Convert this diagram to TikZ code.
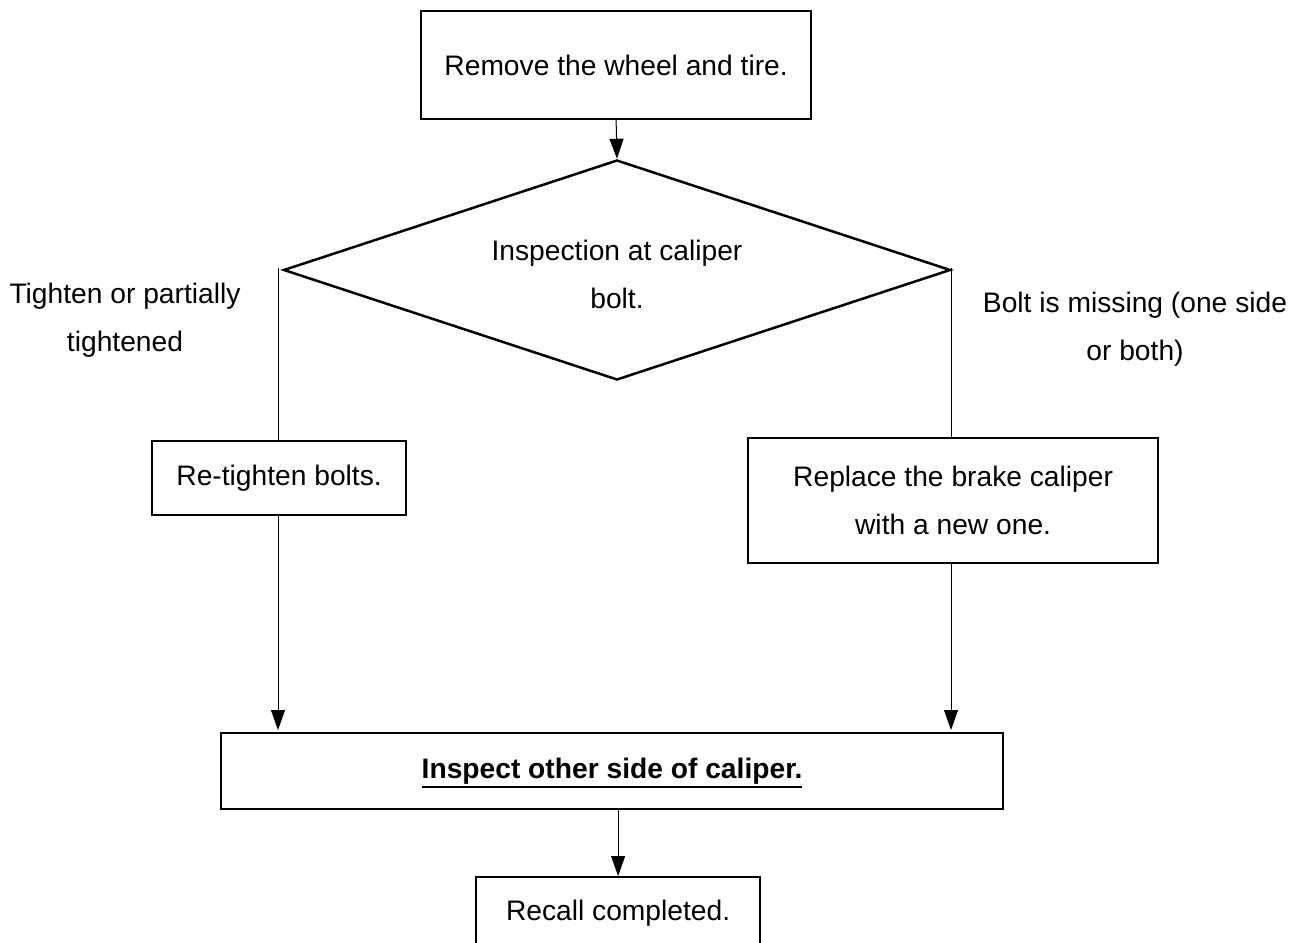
\documentclass[tikz,border=0pt]{standalone}
\usepackage{fontspec}
\setmainfont{Liberation Sans}
\usetikzlibrary{shapes.geometric,arrows.meta}
\begin{document}
\begin{tikzpicture}[x=1pt,y=-1pt,
  every node/.style={font=\fontsize{28.2}{48}\selectfont, inner sep=0pt},
  box/.style={draw, line width=2.2pt, anchor=north west, align=center},
  link/.style={line width=1pt},
  arr/.style={line width=1pt, -{Triangle[width=14pt,length=20pt]}},
  lbl/.style={align=center}]
\useasboundingbox (0,0) rectangle (1295,942);
% boxes
\node[box, minimum width=390pt, minimum height=108pt] (b1) at (420,10) {Remove the wheel and tire.};
\node[draw, diamond, line width=2.5pt, minimum width=667pt, minimum height=220pt, align=center] (dia) at (617,270) {};
\node[lbl] (diat) at (617,274) {Inspection at caliper\\bolt.};
\node[box, minimum width=254pt, minimum height=74pt] (rt) at (151,440) {Re-tighten bolts.};
\node[box, minimum width=410pt, minimum height=125pt] (rp) at (747,437) {Replace the brake caliper\\with a new one.};
\node[box, minimum width=782pt, minimum height=76pt] (ins) at (220,732) {\textbf{Inspect other side of caliper.}};
\draw[line width=2pt] ([xshift=-190pt,yshift=-16pt]ins.center) -- ([xshift=190pt,yshift=-16pt]ins.center);
\node[box, minimum width=284pt, minimum height=80pt, anchor=north west] (rc) at (475,876) {\raisebox{14pt}{Recall completed.}};
% labels
\node[lbl] (ll) at (125,320) {Tighten or partially\\tightened};
\node[lbl] (rl) at (1135,329) {Bolt is missing (one side\\or both)};
% connector points
\coordinate (dl) at (278,268);
\coordinate (dr) at (951,268);
\coordinate (lt) at (278,730);
\coordinate (rtip) at (951,730);
% connectors
\draw[arr] (b1.south) -- (dia.north);
\draw[link] (dl) -- (dl |- rt.north);
\draw[arr] (dl |- rt.south) -- (lt);
\draw[link] (dr) -- (dr |- rp.north);
\draw[arr] (dr |- rp.south) -- (rtip);
\draw[arr] (ins.south -| rc.north) -- (rc.north);
\end{tikzpicture}
\end{document}
